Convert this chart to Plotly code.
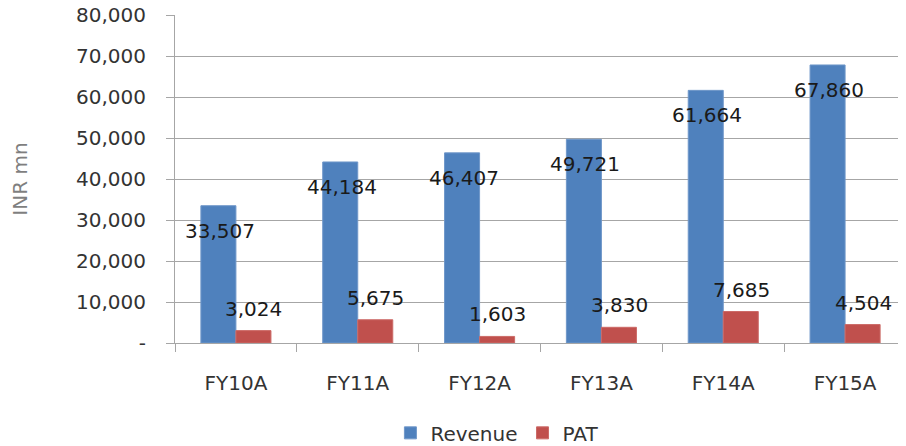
import plotly.graph_objects as go

categories = ["FY10A", "FY11A", "FY12A", "FY13A", "FY14A", "FY15A"]
revenue = [33507, 44184, 46407, 49721, 61664, 67860]
pat = [3024, 5675, 1603, 3830, 7685, 4504]
y_tickvals = [0, 10000, 20000, 30000, 40000, 50000, 60000, 70000, 80000]
y_ticktext = ["-", "10,000", "20,000", "30,000", "40,000", "50,000", "60,000", "70,000", "80,000"]

FONT = "DejaVu Sans"
BLUE = "#4F81BD"
RED = "#C0504D"

fig = go.Figure()
fig.add_trace(go.Bar(x=categories, y=revenue, name="Revenue",
                     marker=dict(color=BLUE, line=dict(color="#6f97c9", width=1))))
fig.add_trace(go.Bar(x=categories, y=pat, name="PAT",
                     marker=dict(color=RED, line=dict(color="#cc6a67", width=1))))

for c, v in zip(categories, revenue):
    fig.add_annotation(x=c, y=v, text=f"{v:,}", showarrow=False, xshift=-16, yshift=-25,
                       yanchor="middle", font=dict(family=FONT, size=20, color="#1a1a1a"))
for c, v in zip(categories, pat):
    fig.add_annotation(x=c, y=v, text=f"{v:,}", showarrow=False, xshift=18, yshift=22,
                       yanchor="middle", font=dict(family=FONT, size=20, color="#1a1a1a"))

fig.update_layout(
    width=898, height=438,
    margin=dict(l=167, r=0, t=7, b=103),
    paper_bgcolor="white", plot_bgcolor="white",
    barmode="group", bargap=0.425, bargroupgap=0,
    font=dict(family=FONT, size=20, color="#333333"),
    showlegend=True,
    legend=dict(orientation="h", xref="container", yref="container",
                x=0.545, xanchor="center", y=0.03, yanchor="middle",
                font=dict(family=FONT, size=20, color="#333333"),
                itemwidth=30, traceorder="normal"),
    xaxis=dict(type="category", showline=True, linecolor="#a6a6a6", linewidth=1,
               ticks="outside", tickson="boundaries", ticklen=8, tickcolor="#a6a6a6",
               ticklabelstandoff=22, showgrid=False, automargin=False,
               tickfont=dict(family=FONT, size=20, color="#333333")),
    yaxis=dict(range=[0, 80060], tickvals=y_tickvals, ticktext=y_ticktext,
               showline=True, linecolor="#a6a6a6", linewidth=1,
               ticks="outside", ticklen=8, tickcolor="#a6a6a6",
               ticklabelstandoff=16, ticklabeloverflow="allow", automargin=False,
               showgrid=True, gridcolor="#a6a6a6", gridwidth=1, zeroline=False,
               tickfont=dict(family=FONT, size=20, color="#333333"),
               title=dict(text="INR mn", standoff=52,
                          font=dict(family=FONT, size=20, color="#7f7f7f"))),
)

fig.write_html("out.html")
